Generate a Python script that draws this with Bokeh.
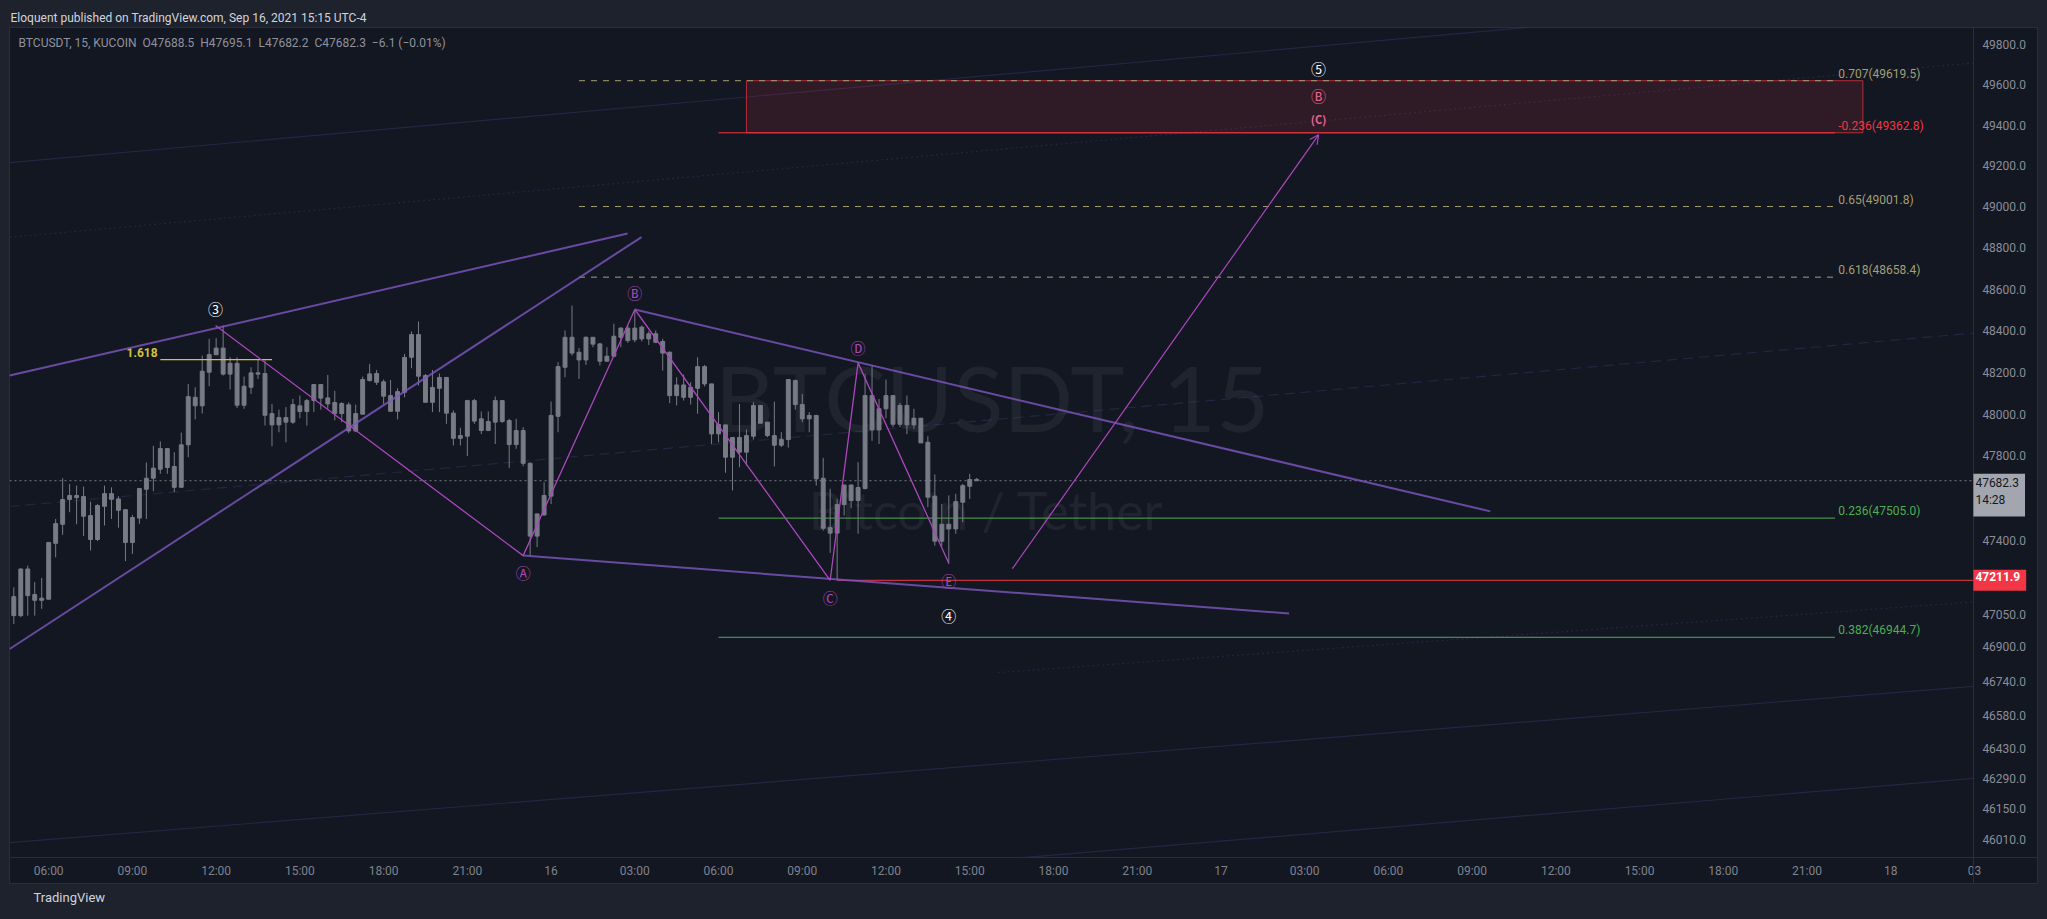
from bokeh.plotting import figure
from bokeh.models import (FixedTicker, NumeralTickFormatter, Label, Arrow, OpenHead, Title,
                          ColumnDataSource, Range1d, GlobalInlineStyleSheet)
from bokeh.core.properties import value
from bokeh.embed import file_html
from bokeh.resources import INLINE

BG = "#131722"
OUTER = "#1e222d"
FONT = "Roboto"
CIRC = "Noto Sans CJK JP"

# ---------------- candle data (15 min bars, Sep 15 04:45 -> Sep 16 15:15) ----------------
opens = [47135, 47046, 47265, 47145, 47118, 47123, 47386, 47476, 47593, 47612,
         47607, 47517, 47404, 47561, 47621, 47596, 47545, 47390, 47505, 47642,
         47694, 47737, 47835, 47750, 47651, 47853, 48080, 48039, 48200, 48284,
         48316, 48191, 48243, 48042, 48128, 48197, 48194, 48002, 47948, 47983,
         47961, 48039, 48012, 48064, 48141, 48077, 48055, 48002, 48044, 47919,
         47999, 48160, 48194, 48154, 48088, 48013, 48104, 48272, 48381, 48184,
         48056, 48123, 48175, 48004, 47884, 47894, 48064, 47977, 47921, 47961,
         48064, 47969, 47854, 47921, 47765, 47420, 47520, 47609, 47989, 48224,
         48368, 48296, 48259, 48368, 48336, 48253, 48277, 48368, 48412, 48356,
         48417, 48360, 48385, 48348, 48296, 48088, 48139, 48080, 48123, 48227,
         48144, 47905, 47948, 47794, 47888, 47818, 47894, 48041, 47961, 47897,
         47851, 47878, 48160, 48045, 47977, 47993, 47694, 47460, 47434, 47569,
         47662, 47588, 47645, 48088, 47924, 48025, 48088, 47951, 48041, 47948,
         47980, 47865, 47609, 47396, 47476, 47454, 47580, 47656, 47688.5]
highs = [47179, 47268, 47281, 47203, 47223, 47391, 47501, 47694, 47667, 47659,
         47655, 47583, 47571, 47659, 47651, 47609, 47546, 47520, 47648, 47769,
         47848, 47869, 47837, 47818, 47911, 48143, 48128, 48280, 48361, 48364,
         48425, 48272, 48272, 48179, 48224, 48261, 48256, 48048, 48021, 48033,
         48072, 48088, 48072, 48141, 48141, 48187, 48111, 48056, 48056, 48045,
         48179, 48240, 48211, 48165, 48163, 48123, 48288, 48396, 48444, 48192,
         48211, 48194, 48176, 48017, 47934, 48068, 48072, 48012, 48012, 48084,
         48064, 47977, 47977, 47937, 47770, 47525, 47675, 48060, 48248, 48401,
         48521, 48316, 48372, 48368, 48341, 48320, 48433, 48417, 48425, 48500,
         48425, 48397, 48401, 48361, 48300, 48176, 48189, 48152, 48272, 48235,
         48144, 48009, 47948, 47888, 48048, 47926, 48056, 48041, 47961, 48059,
         47913, 48165, 48165, 48096, 48009, 47996, 47791, 47644, 47596, 47662,
         47664, 47770, 48192, 48232, 48072, 48165, 48090, 48053, 48088, 48025,
         47980, 47894, 47712, 47572, 47613, 47620, 47667, 47715, 47695.1]
lows = [47007, 47039, 47046, 47046, 47078, 47122, 47320, 47426, 47533, 47476,
        47420, 47352, 47397, 47470, 47501, 47460, 47302, 47336, 47478, 47501,
        47632, 47715, 47715, 47628, 47651, 47794, 47974, 48002, 48133, 48284,
        48184, 48117, 48028, 48025, 48096, 48168, 47945, 47846, 47913, 47865,
        47953, 47980, 47945, 48009, 48021, 48025, 47970, 47961, 47908, 47913,
        47999, 48155, 48139, 48048, 48013, 47974, 48080, 48219, 48136, 48056,
        48009, 48009, 47953, 47850, 47850, 47799, 47953, 47904, 47921, 47857,
        47958, 47743, 47834, 47751, 47328, 47368, 47517, 47572, 47913, 48176,
        48280, 48168, 48235, 48320, 48232, 48251, 48272, 48320, 48341, 48344,
        48348, 48331, 48340, 48208, 48052, 48041, 48064, 48045, 48001, 48132,
        47857, 47865, 47720, 47636, 47746, 47754, 47878, 47956, 47889, 47750,
        47842, 47840, 48021, 47961, 47913, 47659, 47446, 47341, 47212, 47517,
        47552, 47431, 47641, 47872, 47857, 47980, 47937, 47937, 47904, 47929,
        47862, 47557, 47375, 47372, 47289, 47431, 47486, 47596, 47682.2]
closes = [47046, 47265, 47140, 47118, 47128, 47390, 47479, 47593, 47612, 47602,
          47514, 47404, 47565, 47621, 47594, 47542, 47390, 47508, 47645, 47694,
          47742, 47835, 47745, 47651, 47853, 48083, 48039, 48205, 48285, 48316,
          48191, 48243, 48042, 48133, 48197, 48191, 47994, 47948, 47983, 47961,
          48045, 48012, 48064, 48141, 48076, 48048, 48002, 48050, 47919, 48002,
          48165, 48192, 48152, 48085, 48013, 48107, 48271, 48381, 48181, 48056,
          48127, 48175, 48004, 47884, 47897, 48064, 47966, 47921, 47964, 48064,
          47964, 47854, 47921, 47765, 47420, 47525, 47612, 47993, 48227, 48368,
          48292, 48259, 48368, 48335, 48253, 48277, 48373, 48412, 48352, 48412,
          48360, 48385, 48344, 48292, 48088, 48139, 48080, 48128, 48227, 48144,
          47905, 47950, 47794, 47888, 47818, 47897, 48041, 47956, 47897, 47851,
          47878, 48165, 48045, 47977, 47993, 47691, 47457, 47434, 47569, 47662,
          47588, 47650, 48088, 47924, 48025, 48088, 47951, 48041, 47948, 47980,
          47862, 47604, 47396, 47476, 47454, 47583, 47659, 47688, 47682.3]
first_bar_hour = 4.75          # Sep 15 04:45
bar_hours = 0.25

# ---------------- axis ticks ----------------
time_ticks = [6, 9, 12, 15, 18, 21, 24, 27, 30, 33, 36, 39, 42, 45, 48, 51, 54, 57, 60, 63, 66, 69, 72, 75]
time_labels = ["06:00", "09:00", "12:00", "15:00", "18:00", "21:00", "16", "03:00", "06:00", "09:00",
               "12:00", "15:00", "18:00", "21:00", "17", "03:00", "06:00", "09:00", "12:00", "15:00",
               "18:00", "21:00", "18", "03"]
price_ticks = [46010, 46150, 46290, 46430, 46580, 46740, 46900, 47050, 47400,
               47800, 48000, 48200, 48400, 48600, 48800, 49000, 49200, 49400, 49600, 49800]
price_axis_hour = 74.96      # where the price scale begins
time_axis_price = 45926      # where the time scale begins

# ---------------- drawings (time in hours from Sep 15 00:00, price) ----------------
wave_t = [11.98, 23.0, 27.0, 34.0, 35.0, 38.25]          # 3 -> A -> B -> C -> D -> E
wave_p = [48425, 47328, 48502, 47212, 48245, 47292]

chan_up_t, chan_up_p = [4.6, 26.74], [48184, 48870]
chan_lo_t, chan_lo_p = [4.6, 27.24], [46890, 48853]
wedge_up_t, wedge_up_p = [27.0, 57.65], [48502, 47537]
wedge_lo_t, wedge_lo_p = [23.0, 50.44], [47328, 47056]

arrow_t, arrow_p = [40.53, 51.5], [47267, 49353]

lbl_t = [11.98, 23.0, 27.0, 34.0, 35.0, 38.25, 38.25, 51.5, 51.5, 51.5]
lbl_p = [48505, 47247, 48583, 47129, 48317, 47211, 47047, 49678, 49546, 49432]
lbl_text = ["③", "Ⓐ", "Ⓑ", "Ⓒ", "Ⓓ", "Ⓔ", "④", "⑤", "Ⓑ", "(C)"]
lbl_color = ["#ffffff", "#ab47bc", "#ab47bc", "#ab47bc", "#ab47bc", "#ab47bc", "#ffffff", "#ffffff",
             "#f06292", "#f06292"]
lbl_size = ["15px"] * 9 + ["11px"]
lbl_style = ["normal"] * 9 + ["bold"]

fib_levels = ["0.707", "-0.236", "0.65", "0.618", "0.236", "0.382"]
fib_prices = [49619.5, 49362.8, 49001.8, 48658.4, 47505.0, 46944.7]
fib_start = [25.0, 30.0, 25.0, 25.0, 30.0, 30.0]
fib_end = [70.0, 70.0, 70.0, 70.0, 70.0, 70.0]
fib_color = ["#a39f72", "#f23645", "#a39f72", "#a39f72", "#4caf50", "#4caf50"]
fib_dash = ["6 6", "solid", "6 6", "6 6", "solid", "solid"]

zone_t, zone_p = [31.0, 71.0], [49362.8, 49619.5]
ext_t, ext_p, ext_label = [10.0, 14.0], 48261, "1.618"
support_t, support_p = [34.25, 74.96], 47211.9
last_price, last_time_left = 47682.3, "14:28"

faint_t = [[4.6, 58.99], [4.6, 74.96], [4.6, 74.96], [4.6, 74.96], [40.9, 74.96], [40.0, 74.96]]
faint_p = [[49216, 49883], [47560, 48388], [48852, 49707], [45995, 46716], [45926, 46290], [46780, 47110]]
faint_dash = ["solid", "10 6", "2 3", "solid", "solid", "2 3"]

header = "Eloquent published on TradingView.com, Sep 16, 2021 15:15 UTC-4"
legend = "BTCUSDT, 15, KUCOIN\u00a0 O47688.5\u00a0 H47695.1\u00a0 L47682.2\u00a0 C47682.3\u00a0 \u22126.1 (\u22120.01%)"
footer = "TradingView"

# ---------------- figure ----------------
p = figure(width=2047, height=919, x_range=Range1d(4.596, 77.257), y_range=Range1d(45808, 49883),
           y_axis_type="log", y_axis_location="right", output_backend="svg", toolbar_location=None,
           title=header, min_border_left=9, min_border_right=10, min_border_top=27, min_border_bottom=36,
           background_fill_color=BG, border_fill_color=OUTER, outline_line_color="#2a2e39")
p.stylesheets = [GlobalInlineStyleSheet(css="body{background:#1e222d;}")]
p.title.align = "left"
p.title.offset = 1
p.title.standoff = 5
p.title.text_font = FONT
p.title.text_font_size = "12px"
p.title.text_font_style = "normal"
p.title.text_color = "#d1d4dc"
p.add_layout(Title(text=footer, align="left", offset=24, standoff=12, vertical_align="top",
                   text_font=FONT, text_font_size="13px", text_font_style="normal",
                   text_color="#d1d4dc"), "below")

p.xgrid.grid_line_color = None
p.ygrid.grid_line_color = None
for ax in (p.xaxis[0], p.yaxis[0]):
    ax.axis_line_color = "#2a2e39"
    ax.major_tick_line_color = None
    ax.minor_tick_line_color = None
    ax.major_tick_out = 0
    ax.major_tick_in = 0
    ax.major_label_text_font = FONT
    ax.major_label_text_font_size = "12px"
p.xaxis.fixed_location = time_axis_price
p.yaxis.fixed_location = price_axis_hour
p.xaxis.ticker = FixedTicker(ticks=time_ticks)
p.xaxis.major_label_overrides = {t: l for t, l in zip(time_ticks, time_labels)}
p.xaxis.major_label_text_color = "#7f828d"
p.xaxis.major_label_standoff = 6
p.yaxis.ticker = FixedTicker(ticks=price_ticks)
p.yaxis.formatter = NumeralTickFormatter(format="0.0")
p.yaxis.major_label_text_color = "#8a8d98"
p.yaxis.major_label_standoff = 9

# watermark
p.text(x=[39.8], y=[48084], text=["BTCUSDT, 15"], text_align="center", text_baseline="middle",
       text_font=value("Lato"), text_font_size="92px", text_color="#d1d4dc", text_alpha=0.07)
p.text(x=[39.6], y=[47545], text=["Bitcoin / Tether"], text_align="center", text_baseline="middle",
       text_font=value("Lato"), text_font_size="52px", text_color="#d1d4dc", text_alpha=0.07)

# faint long trend lines
for ft, fp, fd in zip(faint_t, faint_p, faint_dash):
    p.line(ft, fp, line_color="#7e57c2", line_alpha=0.2, line_width=1.2, line_dash=fd)

# zone
p.quad(left=[zone_t[0]], right=[zone_t[1]], bottom=[zone_p[0]], top=[zone_p[1]],
       fill_color="#f23645", fill_alpha=0.13, line_color="#f23645", line_alpha=0.7, line_width=1)

# fib lines
for pr, s, e, c, d in zip(fib_prices, fib_start, fib_end, fib_color, fib_dash):
    p.line([s, e], [pr, pr], line_color=c, line_width=1, line_dash=d)
p.text(x=[70.12] * len(fib_levels), y=fib_prices,
       text=[f"{l}({v:.1f})" for l, v in zip(fib_levels, fib_prices)],
       text_color=fib_color, text_font=value(FONT), text_font_size="12px",
       text_baseline="middle", text_align="left", y_offset=-7)

# current price & support line
p.line([4.596, price_axis_hour], [last_price, last_price], line_color="#787b86",
       line_dash="2 3", line_width=1)
p.line(support_t, [support_p, support_p], line_color="#f23645", line_width=1)

# candles
n = len(opens)
t = [first_bar_hour + bar_hours * i for i in range(n)]
src = ColumnDataSource(dict(t=t, o=opens, h=highs, l=lows, c=closes,
                            top=[max(a, b) for a, b in zip(opens, closes)],
                            bot=[min(a, b) for a, b in zip(opens, closes)]))
p.segment(x0="t", y0="l", x1="t", y1="h", source=src, line_color="#787b86", line_width=1)
p.vbar(x="t", width=0.14, top="top", bottom="bot", source=src, fill_color="#787b86",
       line_color="#787b86", line_width=1)

# 1.618 extension
p.line(ext_t, [ext_p, ext_p], line_color="#d1c33a", line_width=1.2)
p.text(x=[ext_t[0] - 0.1], y=[ext_p], text=[ext_label], text_color="#d1c33a", text_font=value(FONT),
       text_font_size="12px", text_font_style="bold", text_align="right", text_baseline="middle", y_offset=-7)

# channel / wedge lines
for lt, lp in [(chan_up_t, chan_up_p), (chan_lo_t, chan_lo_p), (wedge_up_t, wedge_up_p), (wedge_lo_t, wedge_lo_p)]:
    p.line(lt, lp, line_color="#7e57c2", line_width=2.0, line_alpha=0.8)

# wave path
p.line(wave_t, wave_p, line_color="#ab47bc", line_width=1.3)

# arrow
p.add_layout(Arrow(x_start=arrow_t[0], y_start=arrow_p[0], x_end=arrow_t[1], y_end=arrow_p[1],
                   line_color="#ab47bc", line_width=1.2,
                   end=OpenHead(size=9, line_color="#ab47bc", line_width=1.2)))

# wave labels
p.text(x=lbl_t, y=lbl_p, text=lbl_text, text_color=lbl_color, text_font=value(CIRC),
       text_font_size=lbl_size, text_font_style=lbl_style, text_align="center", text_baseline="middle")

# legend (inside pane)
p.add_layout(Label(x=9, y=841, x_units="screen", y_units="screen", text=legend, text_color="#8f929c",
                   text_font=FONT, text_font_size="12px", text_baseline="middle"))

# price tags on the scale
p.add_layout(Label(x=price_axis_hour, y=last_price, text=f"{last_price}\n{last_time_left}",
                   text_color="#131722", text_font=FONT, text_font_size="12px", text_align="left",
                   text_baseline="top", y_offset=7, background_fill_color="#a3a6af", padding=(2, 6, 2, 10)))
p.add_layout(Label(x=price_axis_hour, y=support_p, text=f"{support_p}", text_align="left",
                   text_color="#ffffff", text_font=FONT, text_font_size="12px", text_font_style="bold",
                   text_baseline="middle", background_fill_color="#f23645", padding=(2, 6, 2, 10)))

open("out.html", "w").write(file_html(p, INLINE))
